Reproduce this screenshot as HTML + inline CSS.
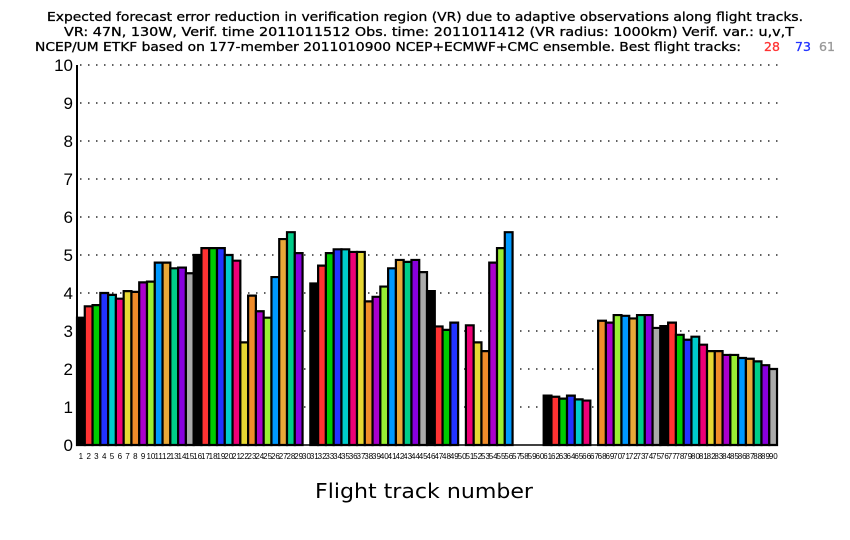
<!DOCTYPE html>
<html><head><meta charset="utf-8"><style>
html,body{margin:0;padding:0;background:#fff;}
svg{display:block;}
.t{font-family:"DejaVu Sans","Liberation Sans",sans-serif;font-size:12.5px;font-weight:normal;fill:#000;stroke:#000;stroke-width:0.3px;}
.y{font-family:"Liberation Sans",sans-serif;font-size:17px;fill:#000;}
.x{font-family:"Liberation Sans",sans-serif;font-size:8px;fill:#000;}
.b rect{stroke:#000;stroke-width:2.2px;}
</style></head><body>
<svg width="850" height="540" viewBox="0 0 850 540" xmlns="http://www.w3.org/2000/svg">
<rect width="850" height="540" fill="#fff"/>
<text class="t" x="47" y="21" textLength="756" lengthAdjust="spacingAndGlyphs">Expected forecast error reduction in verification region (VR) due to adaptive observations along flight tracks.</text>
<text class="t" x="64" y="36" textLength="730" lengthAdjust="spacingAndGlyphs">VR: 47N, 130W, Verif. time 2011011512 Obs. time: 2011011412 (VR radius: 1000km)  Verif. var.: u,v,T</text>
<text class="t" x="35" y="51" textLength="706" lengthAdjust="spacingAndGlyphs">NCEP/UM ETKF based on 177-member 2011010900 NCEP+ECMWF+CMC ensemble. Best flight tracks:</text>
<text class="t" x="764" y="51" style="fill:#f33;stroke:#f33">28</text>
<text class="t" x="795" y="51" style="fill:#23f;stroke:#23f">73</text>
<text class="t" x="819" y="51" style="fill:#999;stroke:#999">61</text>
<g stroke="#000" stroke-width="1.2" stroke-dasharray="1.5,6.5">
<line x1="80" y1="65" x2="778" y2="65"/><line x1="80" y1="103" x2="778" y2="103"/><line x1="80" y1="141" x2="778" y2="141"/><line x1="80" y1="179" x2="778" y2="179"/><line x1="80" y1="217" x2="778" y2="217"/><line x1="80" y1="255" x2="778" y2="255"/><line x1="80" y1="293" x2="778" y2="293"/><line x1="80" y1="331" x2="778" y2="331"/><line x1="80" y1="369" x2="778" y2="369"/><line x1="80" y1="407" x2="778" y2="407"/>
</g>
<g class="y" text-anchor="end">
<text x="73" y="451">0</text><text x="73" y="413">1</text><text x="73" y="375">2</text><text x="73" y="337">3</text><text x="73" y="299">4</text><text x="73" y="261">5</text><text x="73" y="223">6</text><text x="73" y="185">7</text><text x="73" y="147">8</text><text x="73" y="109">9</text><text x="73" y="71">10</text>
</g>
<g class="b" transform="translate(77,445) scale(7.778,-38)">
<rect vector-effect="non-scaling-stroke" x="0" width="1" height="3.35" fill="#000"/>
<rect vector-effect="non-scaling-stroke" x="1" width="1" height="3.65" fill="#f33"/>
<rect vector-effect="non-scaling-stroke" x="2" width="1" height="3.68" fill="#0c0"/>
<rect vector-effect="non-scaling-stroke" x="3" width="1" height="4.0" fill="#23f"/>
<rect vector-effect="non-scaling-stroke" x="4" width="1" height="3.95" fill="#0cc"/>
<rect vector-effect="non-scaling-stroke" x="5" width="1" height="3.85" fill="#e07"/>
<rect vector-effect="non-scaling-stroke" x="6" width="1" height="4.05" fill="#e6d733"/>
<rect vector-effect="non-scaling-stroke" x="7" width="1" height="4.03" fill="#f08c2a"/>
<rect vector-effect="non-scaling-stroke" x="8" width="1" height="4.28" fill="#a0c"/>
<rect vector-effect="non-scaling-stroke" x="9" width="1" height="4.3" fill="#9e3"/>
<rect vector-effect="non-scaling-stroke" x="10" width="1" height="4.8" fill="#09f"/>
<rect vector-effect="non-scaling-stroke" x="11" width="1" height="4.8" fill="#e8a838"/>
<rect vector-effect="non-scaling-stroke" x="12" width="1" height="4.65" fill="#0c8"/>
<rect vector-effect="non-scaling-stroke" x="13" width="1" height="4.67" fill="#80d"/>
<rect vector-effect="non-scaling-stroke" x="14" width="1" height="4.52" fill="#aaa"/>
<rect vector-effect="non-scaling-stroke" x="15" width="1" height="5.0" fill="#000"/>
<rect vector-effect="non-scaling-stroke" x="16" width="1" height="5.18" fill="#f33"/>
<rect vector-effect="non-scaling-stroke" x="17" width="1" height="5.18" fill="#0c0"/>
<rect vector-effect="non-scaling-stroke" x="18" width="1" height="5.18" fill="#23f"/>
<rect vector-effect="non-scaling-stroke" x="19" width="1" height="5.0" fill="#0cc"/>
<rect vector-effect="non-scaling-stroke" x="20" width="1" height="4.85" fill="#e07"/>
<rect vector-effect="non-scaling-stroke" x="21" width="1" height="2.7" fill="#e6d733"/>
<rect vector-effect="non-scaling-stroke" x="22" width="1" height="3.93" fill="#f08c2a"/>
<rect vector-effect="non-scaling-stroke" x="23" width="1" height="3.52" fill="#a0c"/>
<rect vector-effect="non-scaling-stroke" x="24" width="1" height="3.35" fill="#9e3"/>
<rect vector-effect="non-scaling-stroke" x="25" width="1" height="4.42" fill="#09f"/>
<rect vector-effect="non-scaling-stroke" x="26" width="1" height="5.42" fill="#e8a838"/>
<rect vector-effect="non-scaling-stroke" x="27" width="1" height="5.6" fill="#0c8"/>
<rect vector-effect="non-scaling-stroke" x="28" width="1" height="5.05" fill="#80d"/>
<rect vector-effect="non-scaling-stroke" x="30" width="1" height="4.25" fill="#000"/>
<rect vector-effect="non-scaling-stroke" x="31" width="1" height="4.72" fill="#f33"/>
<rect vector-effect="non-scaling-stroke" x="32" width="1" height="5.05" fill="#0c0"/>
<rect vector-effect="non-scaling-stroke" x="33" width="1" height="5.15" fill="#23f"/>
<rect vector-effect="non-scaling-stroke" x="34" width="1" height="5.15" fill="#0cc"/>
<rect vector-effect="non-scaling-stroke" x="35" width="1" height="5.08" fill="#e07"/>
<rect vector-effect="non-scaling-stroke" x="36" width="1" height="5.08" fill="#e6d733"/>
<rect vector-effect="non-scaling-stroke" x="37" width="1" height="3.78" fill="#f08c2a"/>
<rect vector-effect="non-scaling-stroke" x="38" width="1" height="3.9" fill="#a0c"/>
<rect vector-effect="non-scaling-stroke" x="39" width="1" height="4.17" fill="#9e3"/>
<rect vector-effect="non-scaling-stroke" x="40" width="1" height="4.65" fill="#09f"/>
<rect vector-effect="non-scaling-stroke" x="41" width="1" height="4.87" fill="#e8a838"/>
<rect vector-effect="non-scaling-stroke" x="42" width="1" height="4.82" fill="#0c8"/>
<rect vector-effect="non-scaling-stroke" x="43" width="1" height="4.87" fill="#80d"/>
<rect vector-effect="non-scaling-stroke" x="44" width="1" height="4.55" fill="#aaa"/>
<rect vector-effect="non-scaling-stroke" x="45" width="1" height="4.05" fill="#000"/>
<rect vector-effect="non-scaling-stroke" x="46" width="1" height="3.12" fill="#f33"/>
<rect vector-effect="non-scaling-stroke" x="47" width="1" height="3.03" fill="#0c0"/>
<rect vector-effect="non-scaling-stroke" x="48" width="1" height="3.22" fill="#23f"/>
<rect vector-effect="non-scaling-stroke" x="50" width="1" height="3.15" fill="#e07"/>
<rect vector-effect="non-scaling-stroke" x="51" width="1" height="2.7" fill="#e6d733"/>
<rect vector-effect="non-scaling-stroke" x="52" width="1" height="2.47" fill="#f08c2a"/>
<rect vector-effect="non-scaling-stroke" x="53" width="1" height="4.8" fill="#a0c"/>
<rect vector-effect="non-scaling-stroke" x="54" width="1" height="5.18" fill="#9e3"/>
<rect vector-effect="non-scaling-stroke" x="55" width="1" height="5.6" fill="#09f"/>
<rect vector-effect="non-scaling-stroke" x="60" width="1" height="1.3" fill="#000"/>
<rect vector-effect="non-scaling-stroke" x="61" width="1" height="1.27" fill="#f33"/>
<rect vector-effect="non-scaling-stroke" x="62" width="1" height="1.22" fill="#0c0"/>
<rect vector-effect="non-scaling-stroke" x="63" width="1" height="1.3" fill="#23f"/>
<rect vector-effect="non-scaling-stroke" x="64" width="1" height="1.2" fill="#0cc"/>
<rect vector-effect="non-scaling-stroke" x="65" width="1" height="1.17" fill="#e07"/>
<rect vector-effect="non-scaling-stroke" x="67" width="1" height="3.27" fill="#f08c2a"/>
<rect vector-effect="non-scaling-stroke" x="68" width="1" height="3.22" fill="#a0c"/>
<rect vector-effect="non-scaling-stroke" x="69" width="1" height="3.42" fill="#9e3"/>
<rect vector-effect="non-scaling-stroke" x="70" width="1" height="3.4" fill="#09f"/>
<rect vector-effect="non-scaling-stroke" x="71" width="1" height="3.33" fill="#e8a838"/>
<rect vector-effect="non-scaling-stroke" x="72" width="1" height="3.42" fill="#0c8"/>
<rect vector-effect="non-scaling-stroke" x="73" width="1" height="3.42" fill="#80d"/>
<rect vector-effect="non-scaling-stroke" x="74" width="1" height="3.08" fill="#aaa"/>
<rect vector-effect="non-scaling-stroke" x="75" width="1" height="3.13" fill="#000"/>
<rect vector-effect="non-scaling-stroke" x="76" width="1" height="3.22" fill="#f33"/>
<rect vector-effect="non-scaling-stroke" x="77" width="1" height="2.9" fill="#0c0"/>
<rect vector-effect="non-scaling-stroke" x="78" width="1" height="2.77" fill="#23f"/>
<rect vector-effect="non-scaling-stroke" x="79" width="1" height="2.85" fill="#0cc"/>
<rect vector-effect="non-scaling-stroke" x="80" width="1" height="2.64" fill="#e07"/>
<rect vector-effect="non-scaling-stroke" x="81" width="1" height="2.47" fill="#e6d733"/>
<rect vector-effect="non-scaling-stroke" x="82" width="1" height="2.47" fill="#f08c2a"/>
<rect vector-effect="non-scaling-stroke" x="83" width="1" height="2.37" fill="#a0c"/>
<rect vector-effect="non-scaling-stroke" x="84" width="1" height="2.37" fill="#9e3"/>
<rect vector-effect="non-scaling-stroke" x="85" width="1" height="2.29" fill="#09f"/>
<rect vector-effect="non-scaling-stroke" x="86" width="1" height="2.27" fill="#e8a838"/>
<rect vector-effect="non-scaling-stroke" x="87" width="1" height="2.2" fill="#0c8"/>
<rect vector-effect="non-scaling-stroke" x="88" width="1" height="2.1" fill="#80d"/>
<rect vector-effect="non-scaling-stroke" x="89" width="1" height="2.0" fill="#aaa"/>
</g>
<line x1="77" y1="65" x2="77" y2="446" stroke="#000" stroke-width="2"/>
<line x1="77" y1="445" x2="778" y2="445" stroke="#000" stroke-width="1.5"/>
<g class="x" text-anchor="middle">
<text x="80.9" y="459">1</text><text x="88.7" y="459">2</text><text x="96.4" y="459">3</text><text x="104.2" y="459">4</text><text x="112" y="459">5</text><text x="119.8" y="459">6</text><text x="127.6" y="459">7</text><text x="135.3" y="459">8</text><text x="143.1" y="459">9</text><text x="150.9" y="459">10</text><text x="158.7" y="459">11</text><text x="166.5" y="459">12</text><text x="174.2" y="459">13</text><text x="182" y="459">14</text><text x="189.8" y="459">15</text><text x="197.6" y="459">16</text><text x="205.4" y="459">17</text><text x="213.1" y="459">18</text><text x="220.9" y="459">19</text><text x="228.7" y="459">20</text><text x="236.5" y="459">21</text><text x="244.3" y="459">22</text><text x="252" y="459">23</text><text x="259.8" y="459">24</text><text x="267.6" y="459">25</text><text x="275.4" y="459">26</text><text x="283.2" y="459">27</text><text x="290.9" y="459">28</text><text x="298.7" y="459">29</text><text x="306.5" y="459">30</text><text x="314.3" y="459">31</text><text x="322.1" y="459">32</text><text x="329.8" y="459">33</text><text x="337.6" y="459">34</text><text x="345.4" y="459">35</text><text x="353.2" y="459">36</text><text x="361" y="459">37</text><text x="368.7" y="459">38</text><text x="376.5" y="459">39</text><text x="384.3" y="459">40</text><text x="392.1" y="459">41</text><text x="399.9" y="459">42</text><text x="407.6" y="459">43</text><text x="415.4" y="459">44</text><text x="423.2" y="459">45</text><text x="431" y="459">46</text><text x="438.8" y="459">47</text><text x="446.5" y="459">48</text><text x="454.3" y="459">49</text><text x="462.1" y="459">50</text><text x="469.9" y="459">51</text><text x="477.7" y="459">52</text><text x="485.4" y="459">53</text><text x="493.2" y="459">54</text><text x="501" y="459">55</text><text x="508.8" y="459">56</text><text x="516.6" y="459">57</text><text x="524.3" y="459">58</text><text x="532.1" y="459">59</text><text x="539.9" y="459">60</text><text x="547.7" y="459">61</text><text x="555.5" y="459">62</text><text x="563.2" y="459">63</text><text x="571" y="459">64</text><text x="578.8" y="459">65</text><text x="586.6" y="459">66</text><text x="594.4" y="459">67</text><text x="602.1" y="459">68</text><text x="609.9" y="459">69</text><text x="617.7" y="459">70</text><text x="625.5" y="459">71</text><text x="633.3" y="459">72</text><text x="641" y="459">73</text><text x="648.8" y="459">74</text><text x="656.6" y="459">75</text><text x="664.4" y="459">76</text><text x="672.2" y="459">77</text><text x="679.9" y="459">78</text><text x="687.7" y="459">79</text><text x="695.5" y="459">80</text><text x="703.3" y="459">81</text><text x="711.1" y="459">82</text><text x="718.8" y="459">83</text><text x="726.6" y="459">84</text><text x="734.4" y="459">85</text><text x="742.2" y="459">86</text><text x="750" y="459">87</text><text x="757.7" y="459">88</text><text x="765.5" y="459">89</text><text x="773.3" y="459">90</text>
</g>
<text x="315" y="498" textLength="218" lengthAdjust="spacingAndGlyphs" style="font-family:'DejaVu Sans','Liberation Sans',sans-serif;font-size:20px;fill:#000">Flight track number</text>
</svg>
</body></html>
